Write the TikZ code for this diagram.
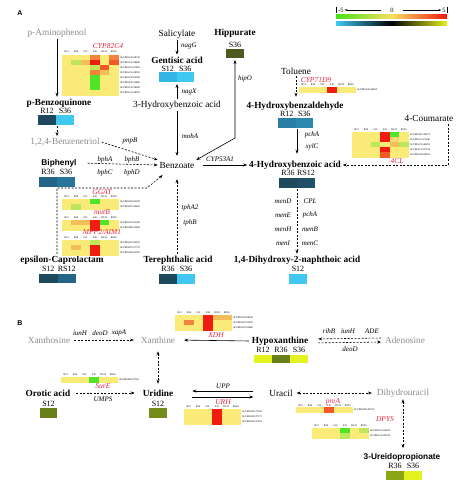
\documentclass[tikz,border=0pt]{standalone}
\usepackage{fontspec}
\setmainfont{Liberation Serif}
\newfontfamily\sansfam{Liberation Sans}
\usetikzlibrary{arrows.meta}
\definecolor{hy}{RGB}{250,234,120}
\definecolor{hr}{RGB}{240,28,18}
\definecolor{hro}{RGB}{242,88,40}
\definecolor{ho}{RGB}{242,130,60}
\definecolor{hlo}{RGB}{242,190,90}
\definecolor{hg}{RGB}{80,228,40}
\definecolor{hlg}{RGB}{190,230,90}
\definecolor{cgrey}{RGB}{140,140,140}
\definecolor{cred}{RGB}{230,40,70}
\definecolor{bdk}{RGB}{30,72,92}
\definecolor{bmd}{RGB}{36,100,135}
\definecolor{bmb}{RGB}{42,125,165}
\definecolor{blb}{RGB}{64,200,240}
\definecolor{blb2}{RGB}{52,182,228}
\definecolor{olv}{RGB}{75,90,30}
\definecolor{olg}{RGB}{105,128,25}
\definecolor{lim}{RGB}{228,242,32}
\definecolor{olm}{RGB}{140,165,20}
\definecolor{lgG}{RGB}{70,225,20}
\definecolor{lgY}{RGB}{248,224,96}
\definecolor{lgR}{RGB}{240,24,16}
\newcommand{\hhead}[2]{\foreach \lab [count=\i from 0] in {R12,R36,S12,S36,RS12,RS36}{\node[hdr] at ({#1+4.7+9.4*\i},#2) {\lab};}}
\newcommand{\hrow}[9]{%
 \filldraw[#3,line width=0.2pt] (#1,#2) rectangle ++(9.4,5);
 \filldraw[#4,line width=0.2pt] ({#1+9.4},#2) rectangle ++(9.4,5);
 \filldraw[#5,line width=0.2pt] ({#1+18.8},#2) rectangle ++(9.4,5);
 \filldraw[#6,line width=0.2pt] ({#1+28.2},#2) rectangle ++(9.4,5);
 \filldraw[#7,line width=0.2pt] ({#1+37.6},#2) rectangle ++(9.4,5);
 \filldraw[#8,line width=0.2pt] ({#1+47},#2) rectangle ++(9.4,5);
 \node[gid] at ({#1+57.6},{#2+2.5}) {#9};}
\begin{document}
\begin{tikzpicture}[x=1pt,y=-1pt,
 met/.style={font=\fontsize{9.3}{10}\selectfont\bfseries, inner sep=0pt, outer sep=2pt},
 metsf/.style={font=\sansfam\fontsize{8.3}{9}\selectfont\bfseries, inner sep=0pt, outer sep=2pt},
 cpd/.style={font=\fontsize{9.3}{10}\selectfont, inner sep=0pt, outer sep=2pt},
 gcpd/.style={cpd, text=cgrey},
 gene/.style={font=\fontsize{7}{8}\selectfont\itshape, inner sep=0pt},
 rgene/.style={font=\fontsize{7.5}{8}\selectfont\itshape, text=cred, inner sep=0pt},
 smp/.style={font=\fontsize{8}{9}\selectfont, inner sep=0pt},
 hdr/.style={font=\fontsize{2.6}{3}\selectfont, inner sep=0pt},
 gid/.style={font=\fontsize{2.6}{3}\selectfont, inner sep=0pt, anchor=west},
 lbl/.style={font=\sansfam\fontsize{7}{8}\selectfont\bfseries, inner sep=0pt},
 leg/.style={font=\fontsize{6.5}{7}\selectfont, inner sep=0pt, outer sep=1pt},
 arr/.style={-{Stealth[length=4pt,width=3pt]}, line width=0.6pt},
 barr/.style={{Stealth[length=4pt,width=3pt]}-{Stealth[length=4pt,width=3pt]}, line width=0.6pt},
 darr/.style={arr, dash pattern=on 2pt off 1.5pt},
 dbarr/.style={barr, dash pattern=on 2pt off 1.5pt},
 legarr/.style={-{Stealth[length=3pt,width=2pt]}, line width=0.4pt}]
\useasboundingbox (0,0) rectangle (474,491);
\fill[white] (0,0) rectangle (474,491);
% ---------- legend ----------
\node[lbl] (labA) at (20,13) {A};
\node[leg] (lm5) at (341,10) {-5};
\node[leg] (l0) at (392,10) {0};
\node[leg] (l5) at (444,10) {5};
\draw[line width=0.4pt] (336,6.5) -- (336,13);
\draw[line width=0.4pt] (447,6.5) -- (447,13);
\draw[legarr, shorten <=8pt] (l0.west) -- (lm5.east);
\draw[legarr, shorten <=8pt] (l0.east) -- (l5.west);
\shade[left color=lgG, right color=lgR, middle color=lgY] (336,14) rectangle (447,18);
\shade[left color=blb, right color=lim, middle color=black] (336,21) rectangle (447,25);
% ---------- p-Aminophenol branch ----------
\node[gcpd] (pamino) at (57,33) {p-Aminophenol};
\node[rgene] (cyp82) at (108,46) {CYP82C4};
\hhead{62}{52}
\hrow{62}{55}{hy}{hy}{hy}{ho}{hy}{ho}{GLYMA13G28130}
\hrow{62}{60}{hy}{hlg}{hlo}{hr}{hy}{hro}{GLYMA13G28480}
\hrow{62}{65}{hy}{hy}{hy}{hlg}{hro}{hy}{GLYMA15G07850}
\hrow{62}{70}{hy}{hy}{hy}{ho}{hlo}{hy}{GLYMA13G28550}
\hrow{62}{75}{hy}{hy}{hy}{hg}{hy}{hy}{GLYMA15G05580}
\hrow{62}{80}{hy}{hy}{hy}{hg}{hy}{hy}{GLYMA03G29860}
\hrow{62}{85}{hy}{hy}{hy}{hg}{hy}{hy}{GLYMA13G28640}
\hrow{62}{90}{hy}{hy}{hy}{hy}{hy}{hy}{GLYMA13G28190}
\node[met] (pbenzo) at (59,103) {p-Benzoquinone};
\node[smp] at (47,111) {R12};
\node[smp] at (65,111) {S36};
\fill[bdk] (38,115) rectangle (56,125);
\fill[blb] (56,115) rectangle (74,125);
\coordinate (pbbar) at (57,126);
\draw[arr] (pamino.south) -- (pamino.south |- pbenzo.north);
\node[gcpd] (triol) at (65,142) {1,2,4-Benzenetriol};
\draw[darr] (pbbar) -- (pbbar |- triol.north);
% ---------- Salicylate branch ----------
\node[cpd] (salic) at (177,34) {Salicylate};
\node[gene] at (189,46) {nagG};
\node[met] (gent) at (177,60) {Gentisic acid};
\node[smp] at (167.75,68.5) {S12};
\node[smp] at (185.25,68.5) {S36};
\fill[blb2] (159,72) rectangle (176.5,82);
\fill[blb] (176.5,72) rectangle (194,82);
\coordinate (gentbar) at (177,84);
\draw[arr] (salic) -- (gent);
\node[cpd] (hb3) at (177,105) {3-Hydroxybenzoic acid};
\node[gene] at (189,92) {nagX};
\draw[arr] (hb3.north) -- (gentbar);
% ---------- Benzoate ----------
\node[cpd] (benz) at (177,165) {Benzoate};
\draw[arr, shorten >=4pt] (hb3) -- (benz);
\node[gene] at (190,136) {mohA};
\draw[darr] (triol.east) -- (benz.north west);
\node[gene] at (130,141) {pnpB};
\node[metsf] (biph) at (59,163) {Biphenyl};
\node[smp] at (48,172) {R36};
\node[smp] at (66,172) {S36};
\fill[bmd] (39,177) rectangle (57,187);
\fill[bmb!85!bdk] (57,177) rectangle (75,187);
\draw[darr, shorten <=9pt] (biph.east) -- (benz.west);
\node[gene] at (105,160) {bphA};
\node[gene] at (132,160) {bphB};
\node[gene] at (105,173) {bphC};
\node[gene] at (132,173) {bphD};
% ---------- Hippurate ----------
\node[met] (hipp) at (235,33) {Hippurate};
\node[smp] at (235,45) {S36};
\fill[olv] (226,49) rectangle (244,58);
\coordinate (hippbar) at (235,60);
\coordinate (hippk) at (235,138);
\draw[barr] (hippbar) -- (hippk) -- (benz.north east);
\node[gene] at (245,79) {hipO};
% ---------- dashed box with heatmaps ----------
\node[met] (eps) at (62,260) {epsilon-Caprolactam};
\node[smp] at (48.25,269) {S12};
\node[smp] at (66.75,269) {RS12};
\fill[bdk] (39,274) rectangle (57.5,283);
\fill[bmd] (57.5,274) rectangle (76,283);
\coordinate (bx1) at (57,188);
\coordinate (bx2) at (147,188);
\draw[darr] (eps.north -| bx1) -- (bx1) -- (bx2) -- ([shift={(5pt,-5pt)}]benz.south west);
\node[rgene] at (102,192.5) {GGAT};
\hhead{62}{197}
\hrow{62}{199}{hy}{hy}{hy}{hg}{hy}{hy}{GLYMA02G03180}
\hrow{62}{204}{hy}{hlg}{hy}{hy}{hy}{hy}{GLYMA01G04420}
\node[rgene] at (102,212.5) {mutB};
\hhead{62}{217.5}
\hrow{62}{220}{hy}{hlo}{hlo}{hr}{hg}{hy}{GLYMA07G03180}
\hrow{62}{225}{hy}{hy}{hy}{hr}{hy}{hy}{GLYMA08G22840}
\node[rgene] at (102,232.5) {MFP2/AIM1};
\hhead{62}{237.5}
\hrow{62}{240}{hy}{hy}{hy}{hlg}{hy}{hy}{GLYMA07G00970}
\hrow{62}{245}{hy}{hlo}{hy}{hr}{hy}{hy}{GLYMA07G37770}
\hrow{62}{250}{hy}{hy}{hy}{hr}{hy}{hy}{GLYMA09G02100}
% ---------- Terephthalic acid ----------
\node[met] (tere) at (178,260) {Terephthalic acid};
\node[smp] at (168,269) {R36};
\node[smp] at (186,269) {S36};
\fill[bdk] (159,274) rectangle (177,284);
\fill[blb] (177,274) rectangle (195,284);
\draw[darr, shorten >=9pt] (tere.north -| benz) -- (benz.south);
\node[gene] at (190,208) {tphA2};
\node[gene] at (190,223) {tphB};
% ---------- 4-Hydroxybenzoic acid ----------
\node[met] (hba4) at (295,165) {4-Hydroxybenzoic acid};
\draw[arr, shorten <=7pt] (benz.east) -- (hba4.west);
\node[gene] at (220,159) {CYP53A1};
\node[smp] at (288,173) {R36};
\node[smp] at (306,173) {RS12};
\fill[bdk] (279,178) rectangle (297,188);
\fill[bdk!70!bmd] (297,178) rectangle (315,188);
\coordinate (hbabar) at (297,189);
% Toluene
\node[cpd] (tolu) at (296,71) {Toluene};
\node[rgene] at (316,80) {CYP71D9};
\hhead{299}{85}
\hrow{299}{87}{hy}{hy}{hy}{hr}{hy}{hy}{GLYMA10G34460}
\node[met] (hbald) at (295,106) {4-Hydroxybenzaldehyde};
\draw[darr, shorten >=3pt] (tolu.south) -- (tolu.south |- hbald.north);
\node[smp] at (286.75,114) {R12};
\node[smp] at (304.25,114) {S36};
\fill[bmb] (278,118) rectangle (295.5,128);
\fill[bmb!85!blb] (295.5,118) rectangle (313,128);
\coordinate (hbbar) at (297,129);
\draw[arr, shorten >=5pt] (hbbar) -- (hbbar |- hba4.north);
\node[gene] at (312,135) {pchA};
\node[gene] at (312,147) {xylC};
% 4-Coumarate
\node[cpd] (coum) at (429,118) {4-Coumarate};
\hhead{352}{129.5}
\hrow{352}{132}{hy}{hy}{hy}{hr}{hg}{hy}{GLYMA01G44270}
\hrow{352}{137}{hy}{hy}{hy}{hr}{hlo!40!hy}{hy}{GLYMA11G01240}
\hrow{352}{142}{hy}{hy}{hlg}{hy}{hlo}{hlg}{GLYMA13G44950}
\hrow{352}{147}{hy}{hy}{hy}{hr}{hy}{hy}{GLYMA17G07190}
\hrow{352}{152}{hy}{hy}{hy}{hro}{hy}{hy}{GLYMA18G08550}
\node[rgene] at (397,161) {4CL};
\coordinate (cm1) at (448,124);
\coordinate (cm2) at (448,165);
\draw[darr] (cm1) -- (cm2) -- (hba4.east);
% 1,4-DHNA
\node[met] (dhna) at (297,260) {1,4-Dihydroxy-2-naphthoic acid};
\draw[darr] (hbabar) -- (hbabar |- dhna.north);
\node[gene] at (283,201) {menD};
\node[gene] at (310,201) {CPL};
\node[gene] at (283,215) {menE};
\node[gene] at (310,215) {pchA};
\node[gene] at (283,229) {menH};
\node[gene] at (310,229) {menB};
\node[gene] at (283,243) {menI};
\node[gene] at (310,243) {menC};
\node[smp] at (298,269) {S12};
\fill[blb] (289,274) rectangle (307,284);
% =============== Panel B ===============
\node[lbl] (labB) at (20,323) {B};
\node[gcpd] (xos) at (49,340) {Xanthosine};
\node[gcpd] (xan) at (158,340) {Xanthine};
\draw[darr, shorten <=2pt, shorten >=5pt] (xos.east) -- (xan.west);
\node[gene] at (80,333) {iunH};
\node[gene] at (100,333) {deoD};
\node[gene] at (119,333) {xapA};
\hhead{175}{312.5}
\hrow{175}{315}{hy}{hy}{hy}{hr}{hlo}{hlo}{GLYMA10G06920}
\hrow{175}{320}{hy}{ho}{hy}{hr}{hy}{hy}{GLYMA07G01870}
\hrow{175}{325}{hy}{hy}{hy}{hr}{hy}{hy}{GLYMA07G01860}
\node[rgene] at (216,335) {XDH};
\node[met] (hypox) at (280,341) {Hypoxanthine};
\draw[arr, shorten <=1pt, shorten >=7pt] (hypox.west) -- (xan.east);
\node[smp] at (263,350) {R12};
\node[smp] at (281,350) {R36};
\node[smp] at (299,350) {S36};
\fill[lim] (254,355) rectangle (272,363);
\fill[olg] (272,355) rectangle (290,363);
\fill[lim] (290,355) rectangle (308,363);
\node[gcpd] (adeno) at (405,340) {Adenosine};
\draw[darr, shorten <=2pt, shorten >=8pt] ([yshift=2pt]adeno.west) -- ([yshift=2pt]hypox.east);
\draw[darr, shorten <=8pt, shorten >=2pt] ([yshift=-2pt]hypox.east) -- ([yshift=-2pt]adeno.west);
\node[gene] at (329,331) {rihB};
\node[gene] at (348,331) {iunH};
\node[gene] at (372,331) {ADE};
\node[gene] at (350,349) {deoD};
\node[met] (urid) at (158,393) {Uridine};
\draw[dbarr, shorten <=6pt, shorten >=4pt] (xan.south) -- (urid.north);
\hhead{61}{374.5}
\hrow{61}{377}{hy}{hy}{hy}{hg}{hy}{hy}{GLYMA06G07100}
\node[rgene] at (103,386) {SurE};
\node[met] (orot) at (48,393) {Orotic acid};
\draw[darr, shorten <=4pt, shorten >=6pt] (orot.east) -- (urid.west);
\node[gene] at (103,399) {UMPS};
\node[smp] at (48.5,404) {S12};
\fill[olg] (40,408) rectangle (57,418);
\node[smp] at (158,404) {S12};
\fill[olg!90!lim] (149,408) rectangle (167,418);
\node[cpd] (ura) at (281,393) {Uracil};
\draw[arr, shorten <=14pt, shorten >=17pt] ([yshift=2pt]ura.west) -- ([yshift=2pt]urid.east);
\draw[arr, shorten <=17pt, shorten >=14pt] ([yshift=-4pt]urid.east) -- ([yshift=-4pt]ura.west);
\node[gene] at (223,386) {UPP};
\node[rgene] at (223,402) {URH};
\hhead{184}{407}
\hrow{184}{409}{hy}{hy}{hy}{hr}{hy}{hy}{GLYMA02G37160}
\hrow{184}{414}{hy}{hy}{hy}{hr}{hy}{hy}{GLYMA02G37171}
\hrow{184}{419}{hy}{hy}{hy}{hr}{hy}{hy}{GLYMA02G37430}
\node[gcpd] (dhu) at (403,393) {Dihydrouracil};
\draw[dbarr, shorten <=2pt, shorten >=3pt] (ura.east) -- (dhu.west);
\node[rgene] at (333,402) {preA};
\hhead{296}{405.5}
\hrow{296}{407.5}{hy}{hy}{hy}{hro}{hy}{hy}{GLYMA09G39320}
\node[rgene] at (385,419) {DPYS};
\hhead{312}{426}
\hrow{312}{428}{hy}{hy}{hy}{hg}{hy}{hlg}{GLYMA17G06100}
\hrow{312}{433}{hy}{hy}{hy}{hlg}{hy}{hy}{GLYMA13G00530}
\node[metsf] (ureido) at (402,457) {3-Ureidopropionate};
\draw[dbarr, shorten >=3pt] (dhu.south) -- (dhu.south |- ureido.north);
\node[smp] at (395,466) {R36};
\node[smp] at (413,466) {S36};
\fill[olm] (386,471) rectangle (404,480);
\fill[lim] (404,471) rectangle (422,480);
\end{tikzpicture}
\end{document}
